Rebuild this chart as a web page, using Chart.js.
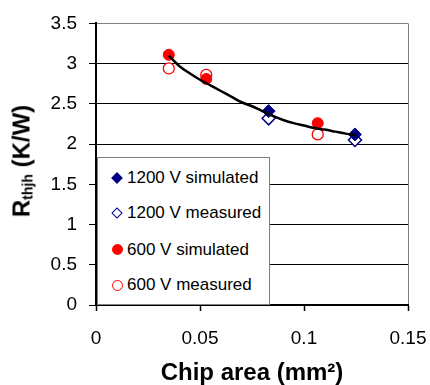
<!DOCTYPE html>
<html>
<head>
<meta charset="utf-8">
<script src="https://cdn.jsdelivr.net/npm/chart.js@4/dist/chart.umd.min.js"></script>
<style>
  html, body { margin: 0; padding: 0; background: #fff; }
  #wrap { position: relative; width: 430px; height: 385px; font-family: "Liberation Sans", Arial, sans-serif; }
  #chart { position: absolute; left: 0; top: 0; }
  #ytitle {
    position: absolute; left: 22.5px; top: 160.5px;
    transform: translate(-50%, -50%) rotate(-90deg);
    font-weight: bold; font-size: 24px; line-height: 24px; white-space: nowrap; color: #000;
  }
  #ytitle span { font-size: 14px; position: relative; top: 3px; }
  #legend {
    position: absolute; left: 97px; top: 157px; width: 171px; height: 146px;
    background: #fff; border: 1px solid #808080;
  }
  .item { position: absolute; left: 0; height: 20px; font-size: 17px; line-height: 20px; color: #000; white-space: nowrap; }
  .item .txt { position: absolute; left: 29px; top: 0; }
  .mk { position: absolute; box-sizing: border-box; }
</style>
</head>
<body>
<div id="wrap">
  <canvas id="chart" width="430" height="385"></canvas>
  <div id="ytitle">R<span>thjh</span> (K/W)</div>
  <div id="legend"></div>
</div>
<script>
// measured / simulated thermal resistance vs chip area
const x1200 = [0.083, 0.1245];
const sim1200 = [2.41, 2.12];
const meas1200 = [2.32, 2.05];

const x600 = [0.035, 0.053, 0.1066];
const sim600 = [3.11, 2.81, 2.26];
const meas600 = [2.94, 2.86, 2.12];

// fitted curve
const fitX = [0.035, 0.040, 0.045, 0.050, 0.055, 0.060, 0.065, 0.070, 0.075, 0.080,
              0.085, 0.090, 0.095, 0.100, 0.105, 0.110, 0.115, 0.120, 0.125];
const fitY = [3.10, 2.97, 2.88, 2.80, 2.73, 2.66, 2.59, 2.52, 2.47, 2.41,
              2.35, 2.30, 2.26, 2.23, 2.20, 2.18, 2.155, 2.13, 2.11];

const seriesNames = ['1200 V simulated', '1200 V measured', '600 V simulated', '600 V measured'];
const xTickLabels = ['0', '0.05', '0.1', '0.15'];
const yTickLabels = ['0', '0.5', '1', '1.5', '2', '2.5', '3', '3.5'];

const FONT = '"Liberation Sans", Arial, sans-serif';
const NAVY = '#000080';
const RED = '#ff0000';

const pts = (xs, ys) => xs.map((x, i) => ({ x: x, y: ys[i] }));

const chart = new Chart(document.getElementById('chart').getContext('2d'), {
  type: 'scatter',
  data: {
    datasets: [
      { label: 'fit', data: pts(fitX, fitY), showLine: true, borderColor: '#000', borderWidth: 2.5,
        pointRadius: 0, cubicInterpolationMode: 'monotone' },
      { label: seriesNames[0], data: pts(x1200, sim1200), pointStyle: 'rectRot', pointRadius: 6.5,
        backgroundColor: NAVY, borderColor: NAVY, borderWidth: 1 },
      { label: seriesNames[1], data: pts(x1200, meas1200), pointStyle: 'rectRot', pointRadius: 6.5,
        backgroundColor: '#fff', borderColor: NAVY, borderWidth: 1.5 },
      { label: seriesNames[2], data: pts(x600, sim600), pointStyle: 'circle', pointRadius: 5.5,
        backgroundColor: RED, borderColor: RED, borderWidth: 1 },
      { label: seriesNames[3], data: pts(x600, meas600), pointStyle: 'circle', pointRadius: 5.5,
        backgroundColor: '#fff', borderColor: RED, borderWidth: 1.3 }
    ]
  },
  options: {
    responsive: false,
    animation: false,
    devicePixelRatio: 1,
    layout: { padding: { top: 21, right: 22, bottom: 0, left: 0 } },
    plugins: { legend: { display: false }, tooltip: { enabled: false } },
    scales: {
      x: {
        type: 'linear', min: 0, max: 0.15,
        ticks: { stepSize: 0.05, color: '#000', padding: 16, font: { family: FONT, size: 19 },
                 callback: (v, i) => xTickLabels[i] },
        grid: {
          color: c => (c.tick && Math.abs(c.tick.value - 0.15) < 1e-9) ? '#808080' : 'rgba(0,0,0,0)',
          tickColor: '#000', tickLength: 6, tickWidth: 1.5, lineWidth: 1
        },
        border: { color: '#000', width: 2 },
        title: { display: true, text: 'Chip area (mm²)', color: '#000', padding: { top: 0, bottom: -3 },
                 font: { family: FONT, size: 24, weight: 'bold' } },
        afterFit: s => { s.height = 80; s.paddingLeft = 0; s.paddingRight = 0; }
      },
      y: {
        type: 'linear', min: 0, max: 3.5,
        ticks: { stepSize: 0.5, color: '#000', padding: 12, font: { family: FONT, size: 19 },
                 callback: (v, i) => yTickLabels[i] },
        grid: {
          color: c => (c.tick && c.tick.value === 3.5) ? '#808080' : '#000',
          tickColor: '#000', tickLength: 7, lineWidth: 1
        },
        border: { color: '#000', width: 2 },
        afterFit: s => { s.width = 96; }
      }
    }
  }
});

// legend box (html), markers follow the dataset styles
const legendEl = document.getElementById('legend');
const itemTops = [19.5, 55, 91.5, 127];
chart.data.datasets.slice(1).forEach((ds, i) => {
  const item = document.createElement('div');
  item.className = 'item';
  item.style.top = (itemTops[i] - 10) + 'px';
  const mk = document.createElement('div');
  mk.className = 'mk';
  if (ds.pointStyle === 'rectRot') {
    mk.style.width = '8px'; mk.style.height = '8px';
    mk.style.left = '15px'; mk.style.top = '6px';
    mk.style.transform = 'rotate(45deg)';
    mk.style.background = ds.backgroundColor;
    mk.style.border = '1.3px solid ' + ds.borderColor;
  } else {
    mk.style.width = '11px'; mk.style.height = '11px';
    mk.style.left = '13.5px'; mk.style.top = '4.5px';
    mk.style.borderRadius = '50%';
    mk.style.background = ds.backgroundColor;
    mk.style.border = '1.3px solid ' + ds.borderColor;
  }
  const txt = document.createElement('span');
  txt.className = 'txt';
  txt.textContent = ds.label;
  item.appendChild(mk);
  item.appendChild(txt);
  legendEl.appendChild(item);
});
</script>
</body>
</html>
